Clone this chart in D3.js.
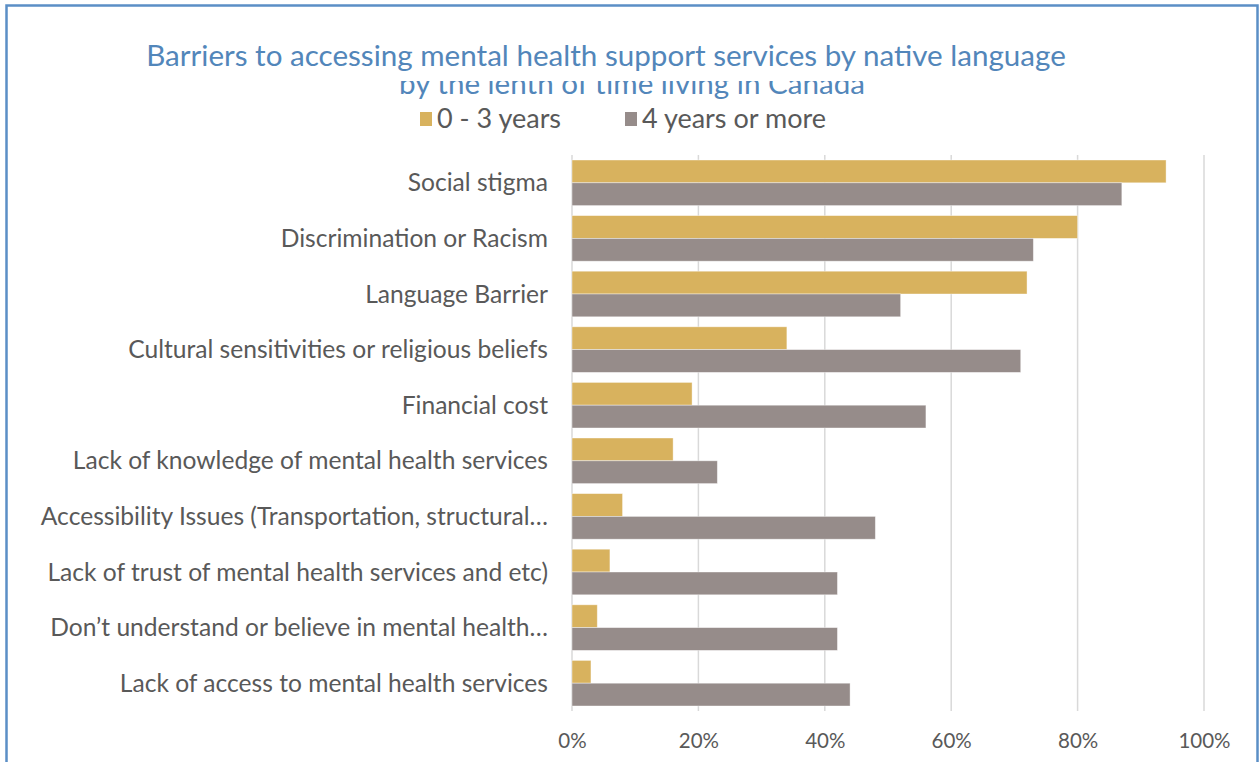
<!DOCTYPE html>
<html>
<head>
<meta charset="utf-8">
<script src="https://cdn.jsdelivr.net/npm/d3@7"></script>
<style>
  html, body { margin: 0; padding: 0; background: #ffffff; }
  svg { display: block; }
  text { font-family: Lato, "Open Sans", sans-serif; }
</style>
</head>
<body>
<svg id="chart" width="1260" height="762"></svg>
<script>
// Barriers by category, share of respondents in each residence-length group
const categories = [
  "Social stigma",
  "Discrimination or Racism",
  "Language Barrier",
  "Cultural sensitivities or religious beliefs",
  "Financial cost",
  "Lack of knowledge of mental health services",
  "Accessibility Issues (Transportation, structural\u2026",
  "Lack of trust of mental health services and etc)",
  "Don\u2019t understand or believe in mental health\u2026",
  "Lack of access to mental health services"
];
const seriesNames = ["0 - 3 years", "4 years or more"];
const shortStay = [0.94, 0.80, 0.72, 0.34, 0.19, 0.16, 0.08, 0.06, 0.04, 0.03];
const longStay  = [0.87, 0.73, 0.52, 0.71, 0.56, 0.23, 0.48, 0.42, 0.42, 0.44];
const tickValues = [0, 0.2, 0.4, 0.6, 0.8, 1.0];
const seriesColors = ["#d8b25e", "#968c8a"];

const svg = d3.select("#chart");

// outer frame
svg.append("rect")
  .attr("x", 6.5).attr("y", 5.5)
  .attr("width", 1251).attr("height", 800)
  .attr("fill", "none")
  .attr("stroke", "#5b8fc6")
  .attr("stroke-width", 2.5);

const plot = { left: 572, right: 1204, top: 155, bottom: 711 };

const x = d3.scaleLinear().domain([0, 1]).range([plot.left, plot.right]);
const y = d3.scaleBand().domain(categories)
  .range([plot.top, plot.bottom])
  .paddingInner(0.18).paddingOuter(0.09);
const ySub = d3.scaleBand().domain(seriesNames).range([0, y.bandwidth()]);

// gridlines
svg.append("g")
  .selectAll("line")
  .data(tickValues)
  .join("line")
  .attr("x1", d => x(d)).attr("x2", d => x(d))
  .attr("y1", plot.top).attr("y2", plot.bottom)
  .attr("stroke", "#d9d9d9")
  .attr("stroke-width", 1.5);

// bars
const rows = categories.map((c, i) => ({ c, vals: [shortStay[i], longStay[i]] }));
const groups = svg.append("g").selectAll("g")
  .data(rows)
  .join("g")
  .attr("transform", d => `translate(0,${y(d.c)})`);

groups.selectAll("rect")
  .data(d => d.vals.map((v, k) => ({ k, v })))
  .join("rect")
  .attr("x", x(0))
  .attr("y", d => ySub(seriesNames[d.k]))
  .attr("width", d => x(d.v) - x(0))
  .attr("height", ySub.bandwidth())
  .attr("fill", d => seriesColors[d.k])
  .attr("stroke", "#ffffff")
  .attr("stroke-opacity", 0.5)
  .attr("stroke-width", 0.8);

// category labels
svg.append("g")
  .selectAll("text")
  .data(categories)
  .join("text")
  .attr("x", plot.left - 24)
  .attr("y", d => y(d) + y.bandwidth() / 2)
  .attr("dy", "0.35em")
  .attr("text-anchor", "end")
  .attr("font-size", 24.6)
  .attr("fill", "#595959")
  .text(d => d);

// x axis tick labels
const xAxis = d3.axisBottom(x)
  .tickValues(tickValues)
  .tickFormat(d3.format(".0%"))
  .tickSize(0)
  .tickPadding(0);
const gx = svg.append("g")
  .attr("transform", `translate(0,${plot.bottom + 22})`)
  .call(xAxis);
gx.select(".domain").remove();
gx.selectAll("text")
  .attr("font-size", 20.5)
  .attr("fill", "#595959")
  .attr("font-family", "Lato, 'Open Sans', sans-serif");

// title
svg.append("text")
  .attr("x", 606).attr("y", 66)
  .attr("text-anchor", "middle")
  .attr("font-size", 29.6)
  .attr("fill", "#5286ba")
  .text("Barriers to accessing mental health support services by native language");

// subtitle, its upper part hidden beneath the title block
svg.append("clipPath").attr("id", "subClip")
  .append("rect").attr("x", 0).attr("y", 81).attr("width", 1260).attr("height", 30);
svg.append("text")
  .attr("x", 632).attr("y", 94)
  .attr("text-anchor", "middle")
  .attr("font-size", 29.6)
  .attr("fill", "#5286ba")
  .attr("clip-path", "url(#subClip)")
  .text("by the lenth of time living in Canada");

// legend
const legendX = [420, 625];
const legend = svg.append("g").selectAll("g")
  .data(seriesNames)
  .join("g")
  .attr("transform", (d, i) => `translate(${legendX[i]},0)`);
legend.append("rect")
  .attr("x", 0).attr("y", 112)
  .attr("width", 12).attr("height", 14)
  .attr("fill", (d, i) => seriesColors[i]);
legend.append("text")
  .attr("x", 17).attr("y", 128)
  .attr("font-size", 27)
  .attr("fill", "#595959")
  .text(d => d);
</script>
</body>
</html>
